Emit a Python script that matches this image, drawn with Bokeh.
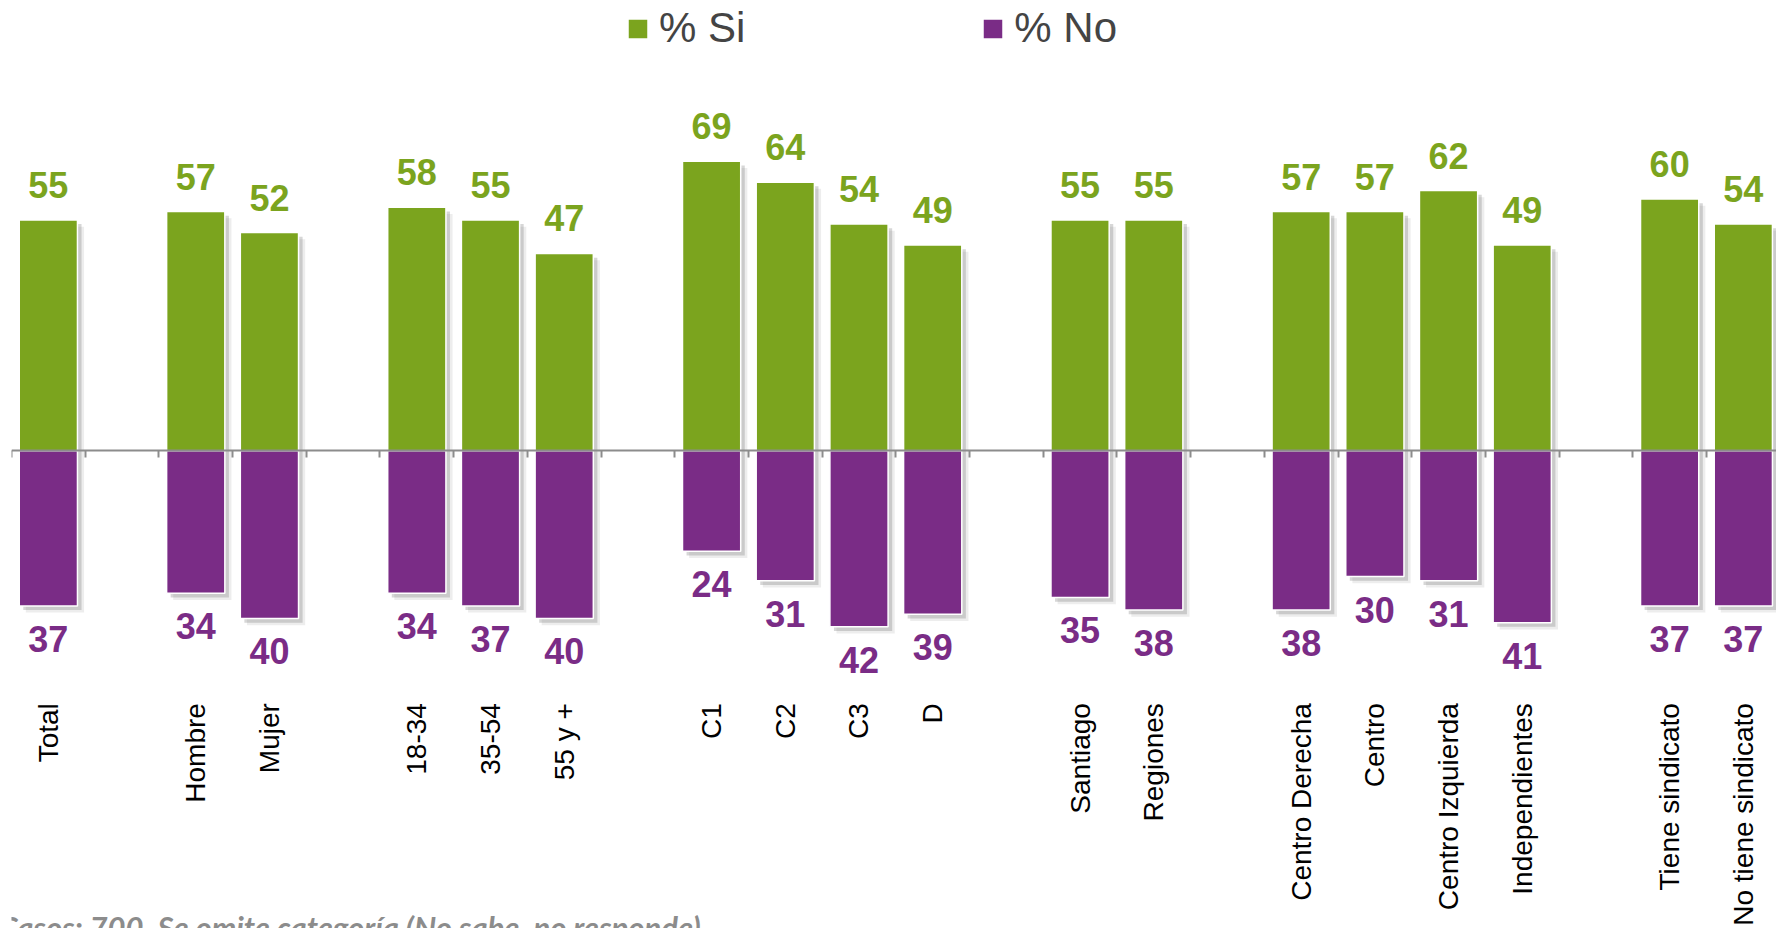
import math
from bokeh.plotting import figure
from bokeh.models import ColumnDataSource, FixedTicker, Legend, LegendItem, Label, Range1d
from bokeh.transform import dodge
from bokeh.core.properties import value
from bokeh.embed import file_html
from bokeh.resources import INLINE

# ---- data ----
groups = [
    ["Total"],
    ["Hombre", "Mujer"],
    ["18-34", "35-54", "55 y +"],
    ["C1", "C2", "C3", "D"],
    ["Santiago", "Regiones"],
    ["Centro Derecha", "Centro", "Centro Izquierda", "Independientes"],
    ["Tiene sindicato", "No tiene sindicato"],
]
si_values = [55, 57, 52, 58, 55, 47, 69, 64, 54, 49, 55, 55, 57, 57, 62, 49, 60, 54]
no_values = [37, 34, 40, 34, 37, 40, 24, 31, 42, 39, 35, 38, 38, 30, 31, 41, 37, 37]
series_names = ["% Si", "% No"]
footnote = "Casos: 700. Se omite categoría (No sabe, no responde)"

GREEN = "#7BA41E"
PURPLE = "#7A2C86"

# slot index for each category, one empty slot between groups
cats, xs = [], []
slot = 0
for g in groups:
    for c in g:
        cats.append(c)
        xs.append(slot)
        slot += 1
    slot += 1
n_slots = slot - 1

src = ColumnDataSource(dict(
    x=xs, cat=cats,
    si=si_values, no=[-v for v in no_values],
    si_lbl=[str(v) for v in si_values], no_lbl=[str(v) for v in no_values],
))

p = figure(width=1776, height=928,
           x_range=Range1d(-0.5, 23.45), y_range=Range1d(-113.9, 107.3),
           output_backend="svg", toolbar_location=None,
           y_axis_location=None,
           min_border_left=11, min_border_right=0, min_border_top=0, min_border_bottom=0)
p.outline_line_color = None
p.grid.visible = False
p.background_fill_color = "white"

W = 0.79
# soft shadows
for dx, dy, a in [(0.09, -1.6, 0.12), (0.055, -1.0, 0.28)]:
    p.vbar(x=dodge("x", dx), top=dodge("si", dy), bottom=0, width=W, source=src,
           fill_color="#6f6f6f", fill_alpha=a, line_color=None)
    p.vbar(x=dodge("x", dx), top=0, bottom=dodge("no", dy), width=W, source=src,
           fill_color="#6f6f6f", fill_alpha=a, line_color=None)

r_si = p.vbar(x="x", top="si", bottom=0, width=W, source=src,
              fill_color=GREEN, line_color="white", line_width=1.5)
r_no = p.vbar(x="x", top=0, bottom="no", width=W, source=src,
              fill_color=PURPLE, line_color="white", line_width=1.5)

# zero axis with boundary ticks
ticks = [k - 0.5 for k in range(n_slots + 1)]
ax = p.xaxis[0]
ax.fixed_location = 0
ax.ticker = FixedTicker(ticks=ticks)
ax.major_label_overrides = {t: "" for t in ticks}
ax.major_label_text_font_size = "1px"
ax.major_label_standoff = 0
ax.axis_line_color = "#8c8c8c"
ax.axis_line_width = 2
ax.major_tick_line_color = "#8c8c8c"
ax.major_tick_line_width = 2
ax.major_tick_in = 0
ax.major_tick_out = 7
ax.minor_tick_line_color = None

# value labels
p.text(x="x", y="si", text="si_lbl", source=src, y_offset=-35,
       text_align="center", text_baseline="alphabetic",
       text_font=value("Liberation Sans"), text_font_style="bold",
       text_font_size="36px", text_color=GREEN)
p.text(x="x", y="no", text="no_lbl", source=src, y_offset=33,
       text_align="center", text_baseline="alphabetic",
       text_font=value("Liberation Sans"), text_font_style="bold",
       text_font_size="36px", text_color=PURPLE)

# category labels (rotated)
p.text(x="x", y=0, text="cat", source=src, y_offset=252.5, angle=math.pi / 2,
       text_align="right", text_baseline="middle",
       text_font=value("Liberation Sans"), text_font_size="28px", text_color="black")

legend = Legend(items=[LegendItem(label=series_names[0], renderers=[r_si]),
                       LegendItem(label=series_names[1], renderers=[r_no])],
                orientation="horizontal", location=(614, 876),
                glyph_width=25, glyph_height=25, label_standoff=9, spacing=235,
                label_text_font="Liberation Sans", label_text_font_size="42px",
                padding=0, margin=0, border_line_color=None, background_fill_alpha=0)
p.add_layout(legend)

p.add_layout(Label(x=-0.68, y=-108.9, text=footnote,
                   text_baseline="top", text_font="Lato", text_font_style="bold italic",
                   text_font_size="31px", text_color="#8c8c8c"))

open("out.html", "w").write(file_html(p, INLINE))
